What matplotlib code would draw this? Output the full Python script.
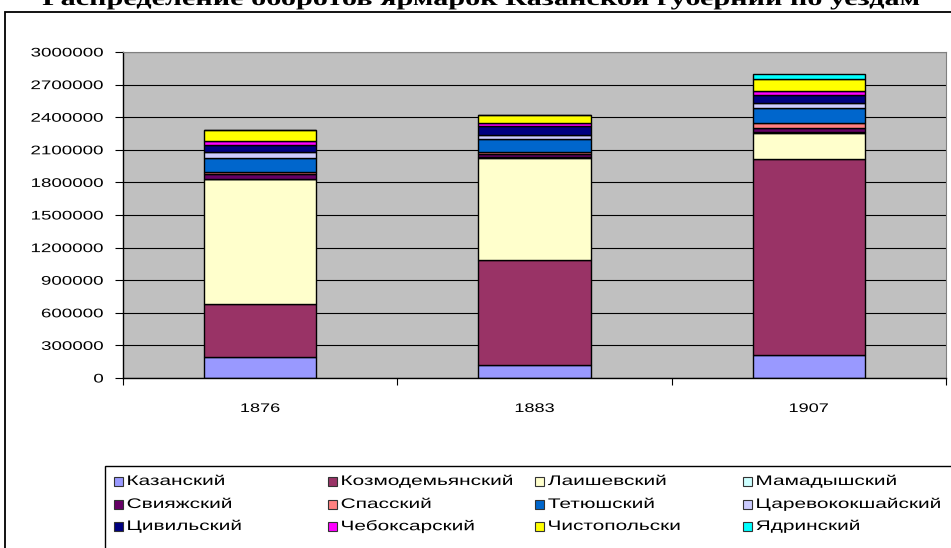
import numpy as np
import matplotlib
matplotlib.use('Agg')
from matplotlib import pyplot as plt
from matplotlib.patches import Rectangle
from matplotlib.patheffects import AbstractPathEffect
from matplotlib.transforms import Affine2D
from matplotlib.ticker import FixedLocator

# данные: обороты ярмарок по уездам (руб.)
years = ['1876', '1883', '1907']
districts = ['Казанский', 'Козмодемьянский', 'Лаишевский', 'Мамадышский',
             'Свияжский', 'Спасский', 'Тетюшский', 'Царевококшайский',
             'Цивильский', 'Чебоксарский', 'Чистопольски', 'Ядринский']
kazansky = [195000, 123000, 215000]
kozmodem = [488000, 966000, 1804000]
laishev = [1145000, 939000, 233000]
mamadysh = [5000, 6000, 14000]
sviyazh = [45000, 23000, 39000]
spassky = [18000, 25000, 46000]
tetyush = [130000, 115000, 135000]
tsarev = [55000, 38000, 46000]
tsivil = [65000, 80000, 75000]
cheboks = [32000, 29000, 32000]
chistop = [102000, 75000, 114000]
yadrin = [0, 0, 46000]
yticks = [0, 300000, 600000, 900000, 1200000, 1500000, 1800000,
          2100000, 2400000, 2700000, 3000000]

series = [kazansky, kozmodem, laishev, mamadysh, sviyazh, spassky,
          tetyush, tsarev, tsivil, cheboks, chistop, yadrin]
colors = ['#9999FF', '#993366', '#FFFFCC', '#CCFFFF', '#660066', '#FF8080',
          '#0066CC', '#CCCCFF', '#000080', '#FF00FF', '#FFFF00', '#00FFFF']


# растянутый по горизонтали текст (как в исходной картинке)
class Stretch(AbstractPathEffect):
    def __init__(self, sx, anchor='left'):
        super().__init__()
        self.sx = sx
        self.anchor = anchor

    def draw_path(self, renderer, gc, tpath, affine, rgbFace=None):
        ext = tpath.get_extents(affine)
        if self.anchor == 'left':
            x0 = ext.x0
        elif self.anchor == 'right':
            x0 = ext.x1
        else:
            x0 = (ext.x0 + ext.x1) / 2
        tr = affine + Affine2D().translate(-x0, 0).scale(self.sx, 1).translate(x0, 0)
        renderer.draw_path(gc, tpath, tr, rgbFace)


plt.rcParams['font.family'] = ['Liberation Sans', 'DejaVu Sans']
W, H = 951, 548
fig = plt.figure(figsize=(W / 100, H / 100), dpi=100)
fig.patch.set_facecolor('white')

ax = fig.add_axes([123 / W, 1 - 378 / H, 823 / W, 326 / H])
ax.set_facecolor('#C0C0C0')
ax.set_axisbelow(True)

x = np.arange(len(years))
bottom = np.zeros(len(years))
for name, vals, c in zip(districts, series, colors):
    vals = np.array(vals, dtype=float)
    ax.bar(x, vals, 0.41, bottom=bottom, color=c, edgecolor='black',
           linewidth=1.0, label=name)
    bottom += vals

ax.set_xlim(-0.5, len(years) - 0.5)
ax.set_ylim(0, 3000000)
ax.yaxis.set_major_locator(FixedLocator(yticks))
ax.set_yticklabels([str(v) for v in yticks])
ax.grid(axis='y', color='black', linewidth=0.8)
ax.xaxis.set_major_locator(FixedLocator(x))
ax.set_xticklabels(years)
ax.xaxis.set_minor_locator(FixedLocator(np.arange(len(years) + 1) - 0.5))
ax.tick_params(axis='x', which='major', length=0, pad=18, labelsize=9)
ax.tick_params(axis='x', which='minor', length=5, width=0.8, color='black')
ax.tick_params(axis='y', length=6, width=0.8, pad=8, labelsize=9)
for s in ['left', 'bottom']:
    ax.spines[s].set_color('black')
    ax.spines[s].set_linewidth(1.0)
for s in ['top', 'right']:
    ax.spines[s].set_color('#808080')
    ax.spines[s].set_linewidth(0.8)

for lab in ax.get_yticklabels():
    lab.set_path_effects([Stretch(1.5, 'right')])
for lab in ax.get_xticklabels():
    lab.set_path_effects([Stretch(1.45, 'center')])

# рамка диаграммы
fig.patches.append(Rectangle((5 / W, -0.1), 1.2, 1.1 - 12 / H,
                             transform=fig.transFigure, fill=False,
                             edgecolor='black', linewidth=1.3, zorder=0))

# заголовок (обрезан сверху, как в оригинале)
fig.text(482 / W, 1 - 5 / H,
         'Распределение оборотов ярмарок Казанской губернии по уездам',
         ha='center', va='baseline', fontsize=15, fontweight='bold',
         family=['Liberation Serif', 'DejaVu Serif'],
         path_effects=[Stretch(1.45, 'center')])

# легенда
fig.patches.append(Rectangle((105 / W, -0.1), 1.2, 0.1 + 1 - 466 / H,
                             transform=fig.transFigure, fill=False,
                             edgecolor='black', linewidth=1.0, zorder=0))
col_x = [114, 328, 535, 743]
row_y = [481, 504, 526]
for i, (name, c) in enumerate(zip(districts, colors)):
    r, k = divmod(i, 4)
    mx, my = col_x[k], row_y[r]
    fig.patches.append(Rectangle((mx / W, 1 - (my + 4.5) / H), 9 / W, 9 / H,
                                 transform=fig.transFigure, facecolor=c,
                                 edgecolor='#333333', linewidth=0.8))
    fig.text((mx + 13) / W, 1 - my / H, name, ha='left', va='center',
             fontsize=10, path_effects=[Stretch(1.5, 'left')])

fig.savefig('out.png', dpi=100)
